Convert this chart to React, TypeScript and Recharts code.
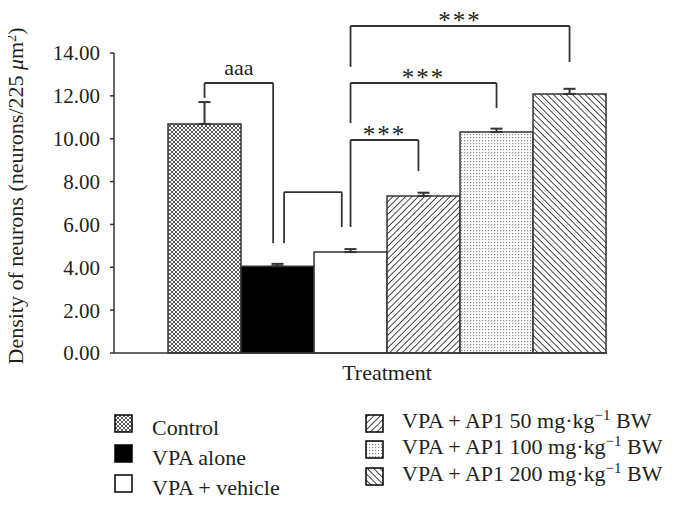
import { Bar, BarChart, Cell, ErrorBar, ReferenceLine, XAxis, YAxis } from "recharts"

const groups = ["Control", "VPA alone", "VPA + vehicle", "VPA + AP1 50", "VPA + AP1 100", "VPA + AP1 200"]
const density = [10.69, 4.05, 4.71, 7.33, 10.31, 12.09]
const sem = [1.02, 0.11, 0.14, 0.15, 0.16, 0.24]
const yTicks = [0, 2, 4, 6, 8, 10, 12, 14]

// significance brackets, x in bar index units, heights in density units
const brackets = [
  { from: 0, to: 0.94, top: 12.6, fromEnd: 11.9, toEnd: 5.13, mark: "aaa" },
  { from: 1.09, to: 1.88, top: 7.51, fromEnd: 5.13, toEnd: 5.88, mark: "" },
  { from: 2, to: 2.93, top: 9.94, fromEnd: 5.88, toEnd: 8.49, mark: "***" },
  { from: 2, to: 4, top: 12.6, fromEnd: 10.73, toEnd: 11.43, mark: "***" },
  { from: 2, to: 5, top: 15.26, fromEnd: 13.35, toEnd: 13.58, mark: "***" },
]

const FONT = '"Liberation Serif", "DejaVu Serif", serif'
const INK = "#231f20"
const LINE = "#333"
const FILLS = ["url(#pCross)", "#000", "#fff", "url(#pFwd)", "url(#pDots)", "url(#pBack)"]

const rows = groups.map((g, i) => ({ x: i, name: g, density: density[i], err: [0, sem[i]] }))

function Patterns() {
  return (
    <defs>
      <pattern id="pCross" width="4" height="4" patternUnits="userSpaceOnUse">
        <rect width="4" height="4" fill="#fff" />
        <path d="M0,0 L4,4 M4,0 L0,4" stroke="#555" strokeWidth="1" />
      </pattern>
      <pattern id="pFwd" width="4.5" height="4.5" patternUnits="userSpaceOnUse" patternTransform="rotate(45)">
        <rect width="4.5" height="4.5" fill="#fff" />
        <line x1="0" y1="0" x2="0" y2="4.5" stroke="#333" strokeWidth="1.8" />
      </pattern>
      <pattern id="pBack" width="4.5" height="4.5" patternUnits="userSpaceOnUse" patternTransform="rotate(-45)">
        <rect width="4.5" height="4.5" fill="#fff" />
        <line x1="0" y1="0" x2="0" y2="4.5" stroke="#333" strokeWidth="1.8" />
      </pattern>
      <pattern id="pDots" width="3" height="3" patternUnits="userSpaceOnUse">
        <rect width="3" height="3" fill="#fff" />
        <rect width="1.2" height="1.2" fill="#888" />
      </pattern>
    </defs>
  )
}

const lineProps = { stroke: LINE, strokeWidth: 1.8, ifOverflow: "visible" as const }

function YLabel() {
  // rotated axis title, drawn in the chart's own svg (chart coords = page - 8)
  return (
    <text x={0} y={0} transform="translate(15,188) rotate(-90)" textAnchor="middle" fontSize={22} fill={INK} fontFamily={FONT}>
      <tspan>Density of neurons (neurons/225 </tspan>
      <tspan fontStyle="italic">μ</tspan>
      <tspan>m</tspan>
      <tspan dy={-7} fontSize={14}>2</tspan>
      <tspan dy={7}>)</tspan>
    </text>
  )
}

export default function App() {
  // overlay uses page coordinates (svg shifted back over the body margin)
  const leftRows = [415, 445, 475]
  const rightRows = [415, 441, 468]
  return (
    <div style={{ position: "relative", width: 660, height: 491, fontFamily: FONT }}>
      <BarChart
        width={660}
        height={491}
        data={rows}
        margin={{ top: 45, right: 61, bottom: 106, left: 46 }}
        barCategoryGap={0}
      >
        <Patterns />
        <XAxis
          type="number"
          dataKey="x"
          domain={[-1.24, 5.513]}
          allowDataOverflow
          tick={false}
          tickLine={false}
          axisLine={{ stroke: LINE, strokeWidth: 1.5 }}
          height={40}
        />
        <YAxis
          domain={[0, 14]}
          ticks={yTicks}
          interval={0}
          tickFormatter={(v: number) => v.toFixed(2)}
          width={60}
          tickSize={4}
          tickMargin={10}
          tick={{ fill: INK, fontSize: 21, fontFamily: FONT }}
          axisLine={{ stroke: LINE, strokeWidth: 1.5 }}
          tickLine={{ stroke: LINE, strokeWidth: 1.5 }}
          label={<YLabel />}
        />
        <Bar dataKey="density" isAnimationActive={false} stroke={LINE} strokeWidth={1.5}>
          {rows.map((r, i) => (
            <Cell key={r.name} fill={FILLS[i]} />
          ))}
          <ErrorBar dataKey="err" direction="y" width={6} stroke={LINE} strokeWidth={2} isAnimationActive={false} />
        </Bar>
        {brackets.map((b, i) => [
          <ReferenceLine key={`l${i}`} {...lineProps} segment={[{ x: b.from, y: b.fromEnd }, { x: b.from, y: b.top }]} />,
          <ReferenceLine
            key={`t${i}`}
            {...lineProps}
            segment={[{ x: b.from, y: b.top }, { x: b.to, y: b.top }]}
            label={
              b.mark
                ? {
                    value: b.mark,
                    position: "top",
                    offset: b.mark === "aaa" ? 8 : -3,
                    fontSize: b.mark === "aaa" ? 22 : 25,
                    fill: INK,
                    fontFamily: FONT,
                    letterSpacing: b.mark === "aaa" ? 0 : 2,
                  }
                : undefined
            }
          />,
          <ReferenceLine key={`r${i}`} {...lineProps} segment={[{ x: b.to, y: b.top }, { x: b.to, y: b.toEnd }]} />,
        ])}
      </BarChart>
      <svg
        width={675}
        height={507}
        style={{ position: "absolute", left: -8, top: -8, pointerEvents: "none", overflow: "visible" }}
      >
        <text x={387} y={380} textAnchor="middle" fontSize={22} fill={INK} fontFamily={FONT}>
          Treatment
        </text>
        {groups.slice(0, 3).map((g, i) => (
          <g key={g}>
            <rect x={115} y={leftRows[i]} width={17} height={17} fill={FILLS[i]} stroke="#000" strokeWidth={1.5} />
            <text x={152} y={leftRows[i] + 20} fontSize={22} fill={INK} fontFamily={FONT}>
              {g}
            </text>
          </g>
        ))}
        {groups.slice(3).map((g, i) => (
          <g key={g}>
            <rect x={366} y={rightRows[i]} width={17} height={17} fill={FILLS[i + 3]} stroke="#000" strokeWidth={1.5} />
            <text x={402} y={rightRows[i] + 13} fontSize={22} fill={INK} fontFamily={FONT}>
              {g} mg·kg
              <tspan dy={-8} fontSize={15}>−1</tspan>
              <tspan dy={8}> BW</tspan>
            </text>
          </g>
        ))}
      </svg>
    </div>
  )
}
